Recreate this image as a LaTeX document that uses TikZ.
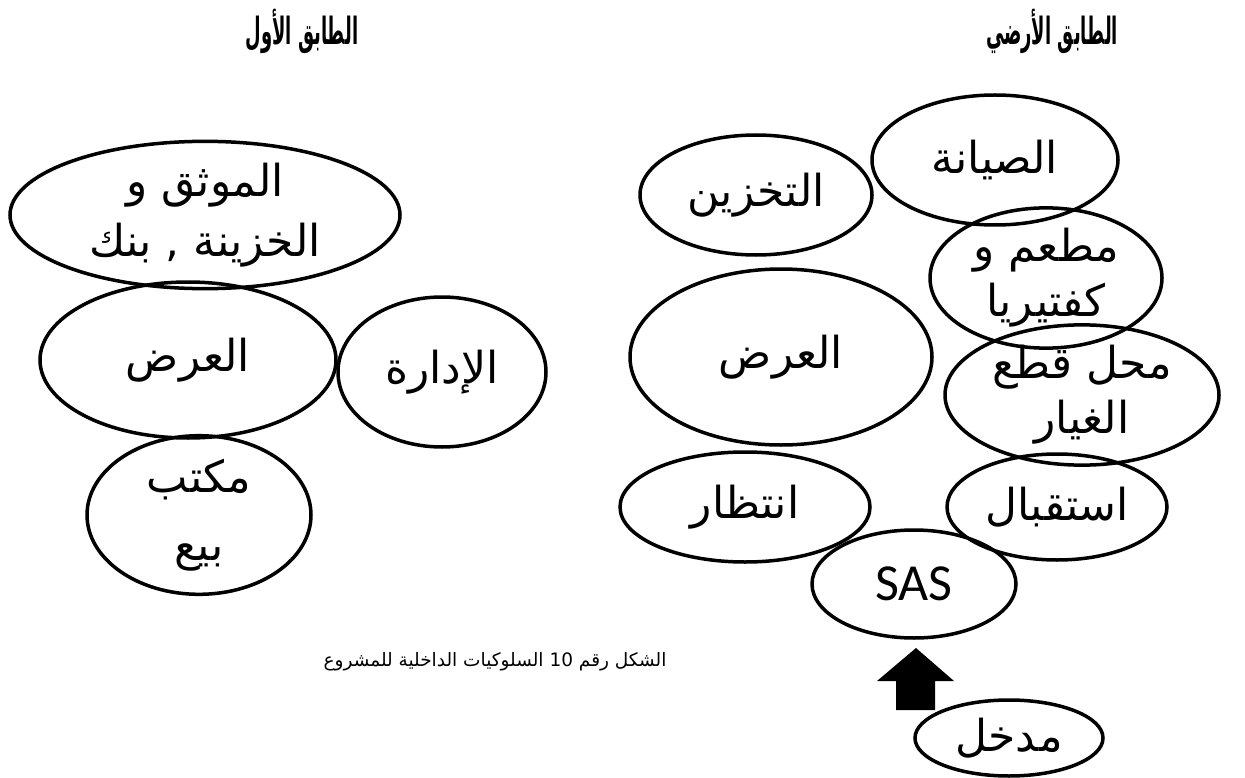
\documentclass[tikz,border=0pt]{standalone}
\usepackage{fontspec}
\usetikzlibrary{shapes.geometric}
\TeXXeTstate=1
\newfontfamily\arabicfont[Script=Arabic]{DejaVu Sans}
\newfontfamily\arabicbold[Script=Arabic]{DejaVu Sans Bold}
\newfontfamily\sasfont{Carlito}
\newcommand\arl[1]{\beginR#1\endR}
\begin{document}
\begin{tikzpicture}[x=1pt,y=-1pt,
  room/.style={ellipse, draw, line width=3.5pt, inner sep=0pt, align=center,
    font=\arabicfont\fontsize{44}{55}\selectfont},
  title/.style={font=\arabicbold\fontsize{30}{34}\selectfont, inner sep=0pt},
  caption/.style={font=\arabicfont\fontsize{18.5}{22}\selectfont, inner sep=0pt}]
\useasboundingbox (0,0) rectangle (1245,778);
% titles
\node[title] (t1) at (302,31) {\scalebox{0.6}[1.25]{\arl{الطابق الأول}}};
\node[title] (t2) at (1052,31) {\scalebox{0.6}[1.25]{\arl{الطابق الأرضي}}};
% first floor
\node[room, minimum width=390pt, minimum height=134pt, font=\arabicfont\fontsize{44}{60}\selectfont] (mw) at (205,215) {\arl{الموثق و}\\\arl{الخزينة , بنك}};
\node[room, minimum width=296pt, minimum height=156pt] (ea) at (188,360) {\arl{العرض}};
\node[room, minimum width=208pt, minimum height=150pt] (id) at (442,372) {\arl{الإدارة}};
\node[room, minimum width=224pt, minimum height=150pt, font=\arabicfont\fontsize{44}{68}\selectfont] (mk) at (199,515) {\arl{مكتب}\\\arl{بيع}};
% ground floor
\node[room, minimum width=232pt, minimum height=120pt] (tk) at (756,195) {\arl{التخزين}};
\node[room, minimum width=246pt, minimum height=130pt] (sy) at (995,160) {\arl{الصيانة}};
\node[room, minimum width=232pt, minimum height=126pt] (mt) at (1046,278) {\arl{مطعم و}\\\arl{كفتيريا}};
\node[room, minimum width=302pt, minimum height=176pt] (eb) at (781,357) {\arl{العرض}};
\node[room, minimum width=274pt, minimum height=120pt] (mh) at (1082,395) {\arl{محل قطع}\\\arl{الغيار}};
\node[room, minimum width=250pt, minimum height=110pt] (nt) at (745,507) {\arl{انتظار}};
\node[room, minimum width=220pt, minimum height=106pt] (sq) at (1057,507) {\arl{استقبال}};
\node[room, minimum width=204pt, minimum height=108pt, font=\sasfont\fontsize{52}{56}\selectfont] (sas) at (914,584) {SAS};
\node[room, minimum width=188pt, minimum height=76pt] (md) at (1009,738) {\arl{مدخل}};
% entrance arrow
\fill (896,710) -- (935,710) -- (935,681) -- (954,681) -- (916,648) -- (877,681) -- (896,681) -- cycle;
% caption
\node[caption] (cap) at (495,662) {\arl{الشكل رقم \beginL 10\endL{} السلوكيات الداخلية للمشروع}};
\end{tikzpicture}
\end{document}
